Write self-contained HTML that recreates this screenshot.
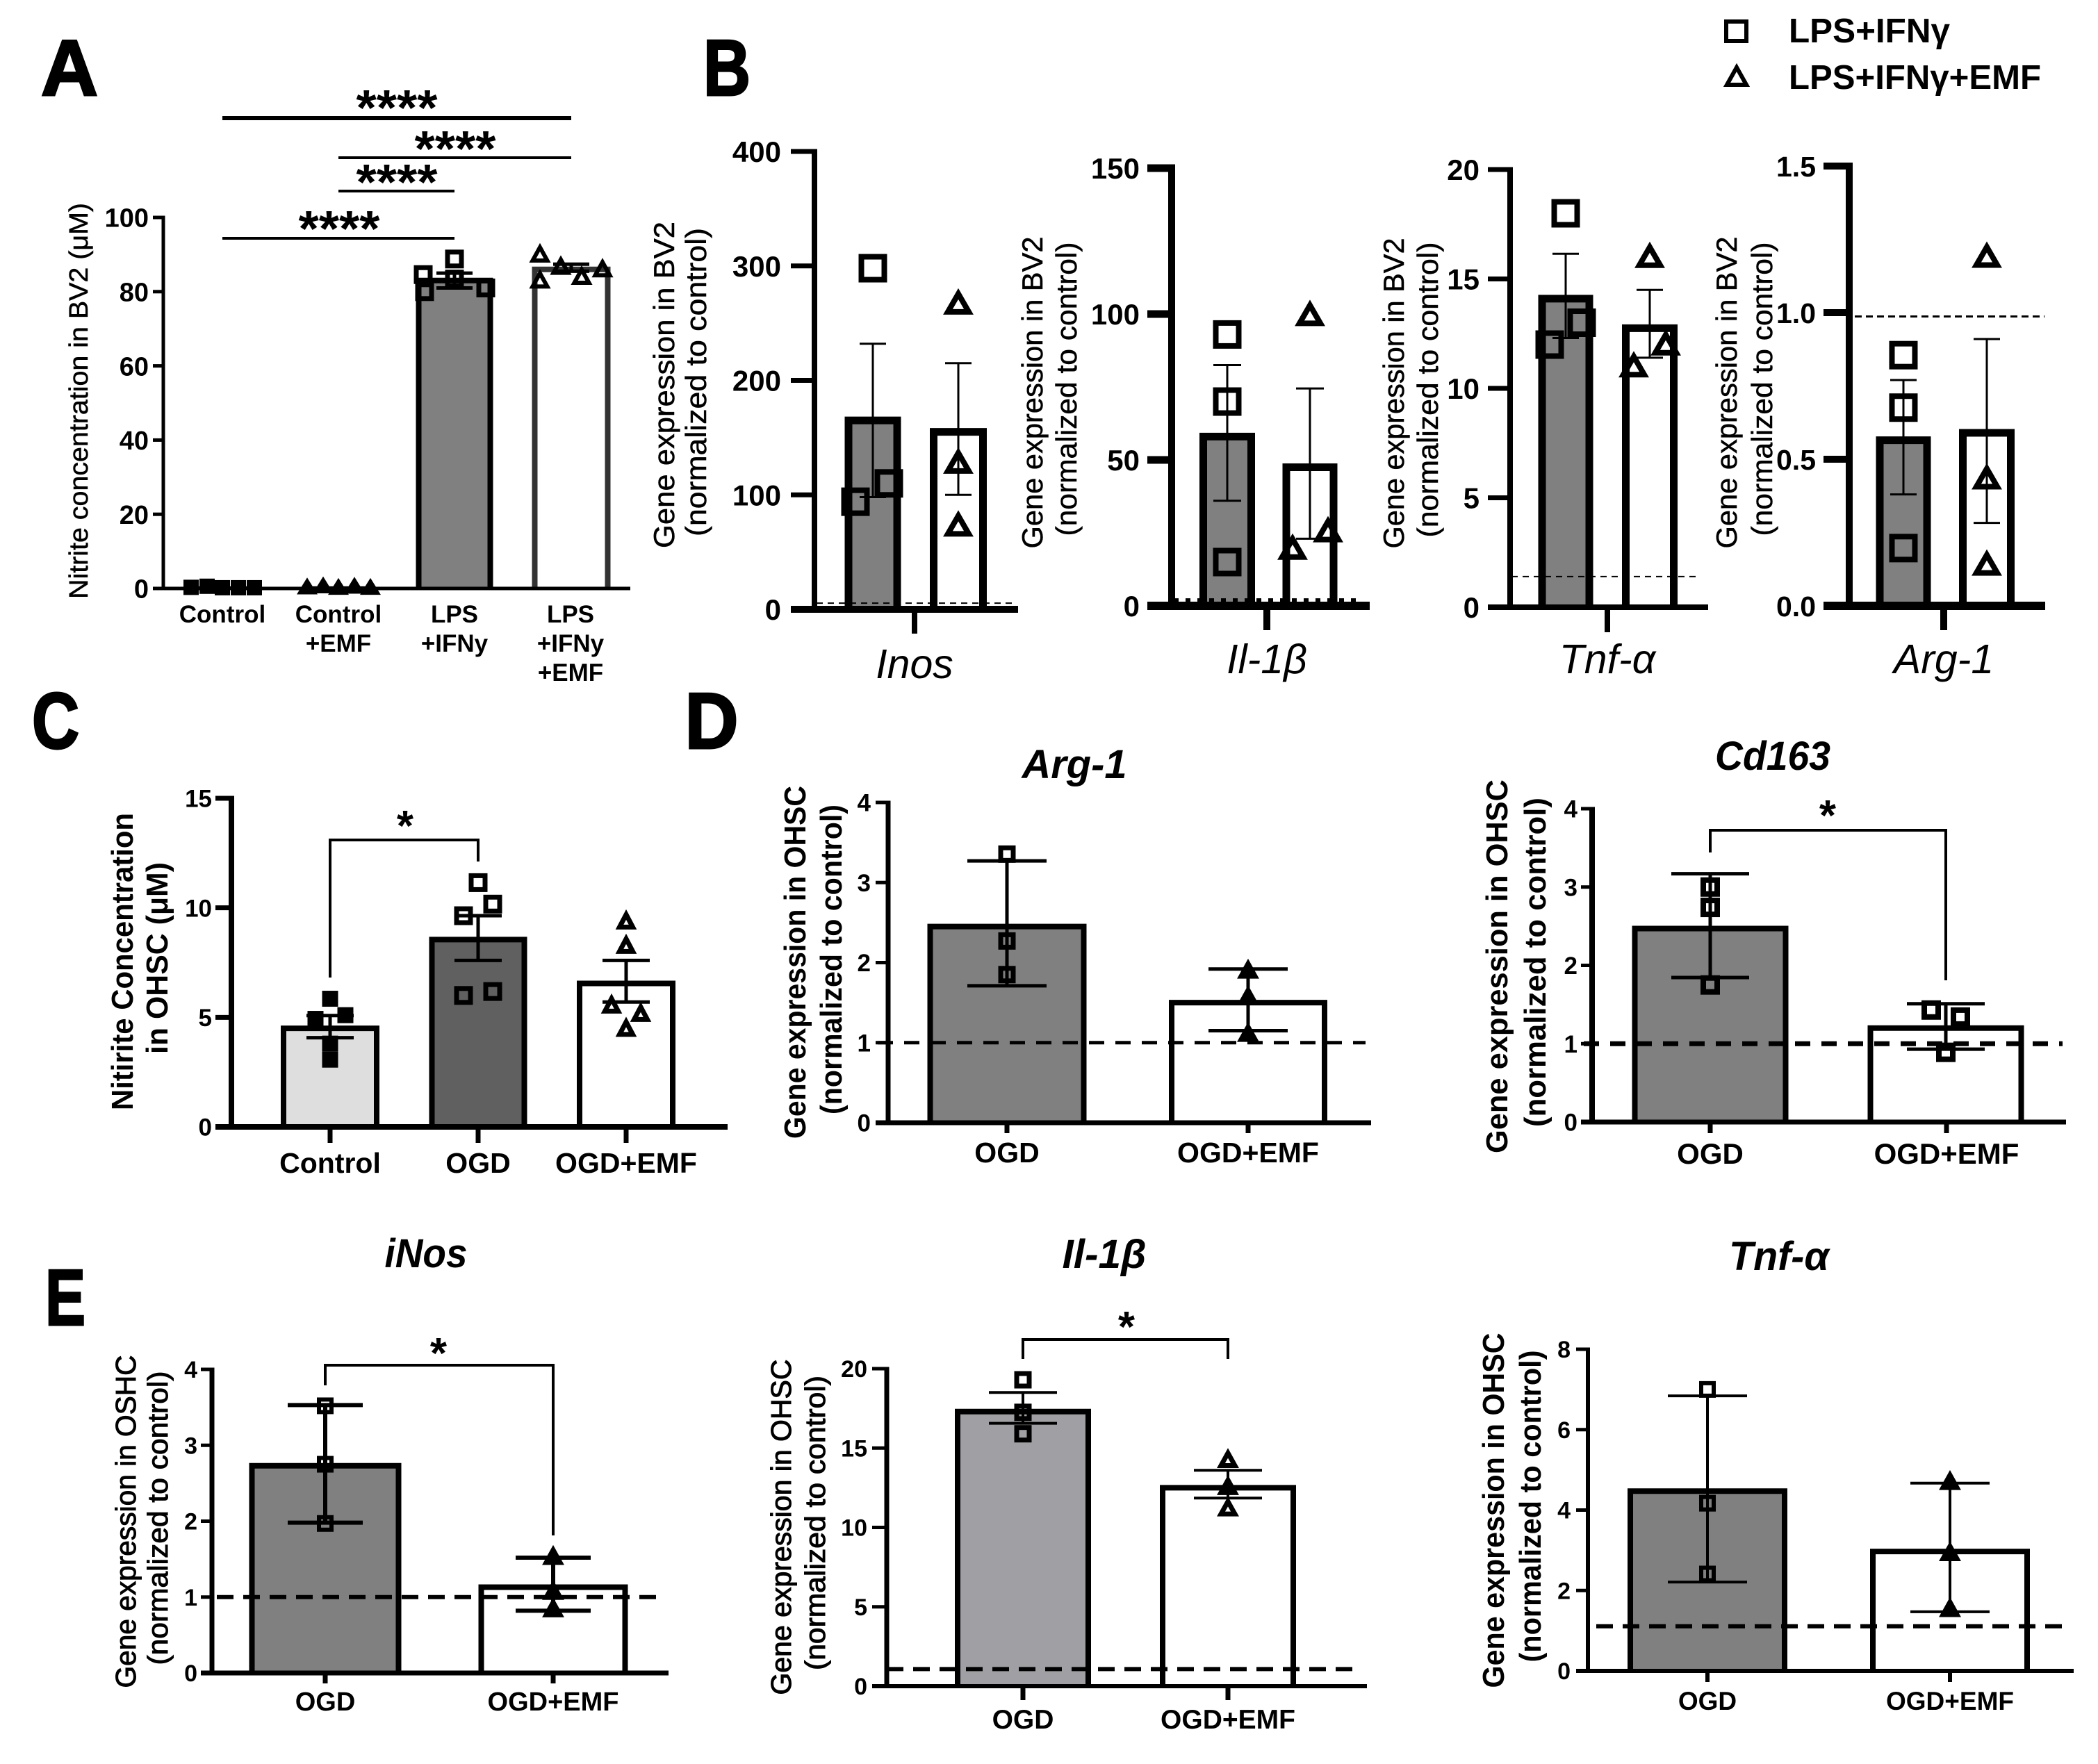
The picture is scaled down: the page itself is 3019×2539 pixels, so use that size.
<!DOCTYPE html>
<html lang="en">
<head>
<meta charset="utf-8">
<title>Nitrite concentration and gene expression in BV2 and OHSC</title>
<style>
html,body{margin:0;padding:0;background:#fff;}
svg{display:block;font-family:"Liberation Sans",sans-serif;}
.letter{font-weight:bold;font-size:114px;text-anchor:middle;stroke:#000;stroke-width:3px;}
.yl{text-anchor:middle;font-size:42px;stroke:#000;stroke-width:.5px;}
.ylb{text-anchor:middle;font-size:44px;font-weight:bold;}
.ylm{text-anchor:middle;font-size:41px;stroke:#000;stroke-width:1px;}
.title{font-weight:bold;font-style:italic;font-size:58px;text-anchor:middle;}
.star{font-weight:bold;text-anchor:middle;}
.leg{font-weight:bold;font-size:49px;}
</style>
</head>
<body>
<svg id="figure" width="3019" height="2539" viewBox="0 0 3019 2539" xmlns="http://www.w3.org/2000/svg">
<rect width="3019" height="2539" fill="#fff"/>
<text class="letter" x="100" y="137" textLength="82" lengthAdjust="spacingAndGlyphs">A</text>
<text class="letter" x="1046" y="137" textLength="68" lengthAdjust="spacingAndGlyphs">B</text>
<text class="letter" x="80" y="1077" textLength="68" lengthAdjust="spacingAndGlyphs">C</text>
<text class="letter" x="1024" y="1077" textLength="77" lengthAdjust="spacingAndGlyphs">D</text>
<text class="letter" x="94" y="1907" textLength="58" lengthAdjust="spacingAndGlyphs">E</text>

<g>
<rect x="2484" y="31" width="29" height="28" fill="none" stroke="#000" stroke-width="6"/>
<polygon points="2499,97 2513,122 2485,122" fill="none" stroke="#000" stroke-width="6"/>
<text class="leg" x="2574" y="61" textLength="232" lengthAdjust="spacingAndGlyphs">LPS+IFNγ</text>
<text class="leg" x="2574" y="128" textLength="363" lengthAdjust="spacingAndGlyphs">LPS+IFNγ+EMF</text>
</g>

<g id="chart-a">
<text class="yl" font-size="38" style="font-size:38px" transform="translate(126,577) rotate(-90)" textLength="570" lengthAdjust="spacingAndGlyphs">Nitrite concentration in BV2 (μM)</text>
<text class="star" font-size="72" x="571" y="180" textLength="117" lengthAdjust="spacingAndGlyphs">****</text>
<text class="star" font-size="72" x="655" y="239" textLength="117" lengthAdjust="spacingAndGlyphs">****</text>
<text class="star" font-size="72" x="571" y="287" textLength="117" lengthAdjust="spacingAndGlyphs">****</text>
<text class="star" font-size="72" x="488" y="354" textLength="117" lengthAdjust="spacingAndGlyphs">****</text>
</g>

<g id="chart-b1">
<text class="yl" transform="translate(970,554) rotate(-90)" textLength="470" lengthAdjust="spacingAndGlyphs">Gene expression in BV2</text>
<text class="yl" transform="translate(1016,550) rotate(-90)" textLength="444" lengthAdjust="spacingAndGlyphs">(normalized to control)</text>
</g>
<g id="chart-b2">
<text class="yl" transform="translate(1500,565) rotate(-90)" textLength="449" lengthAdjust="spacingAndGlyphs">Gene expression in BV2</text>
<text class="yl" transform="translate(1549,560) rotate(-90)" textLength="423" lengthAdjust="spacingAndGlyphs">(normalized to control)</text>
</g>
<g id="chart-b3">
<text class="yl" transform="translate(2020,566) rotate(-90)" textLength="447" lengthAdjust="spacingAndGlyphs">Gene expression in BV2</text>
<text class="yl" transform="translate(2069,561) rotate(-90)" textLength="425" lengthAdjust="spacingAndGlyphs">(normalized to control)</text>
</g>
<g id="chart-b4">
<text class="yl" transform="translate(2499,565) rotate(-90)" textLength="449" lengthAdjust="spacingAndGlyphs">Gene expression in BV2</text>
<text class="yl" transform="translate(2550,560) rotate(-90)" textLength="423" lengthAdjust="spacingAndGlyphs">(normalized to control)</text>
</g>

<g id="chart-c">
<text class="ylb" transform="translate(191,1384) rotate(-90)" textLength="428" lengthAdjust="spacingAndGlyphs">Nitirite Concentration</text>
<text class="ylb" transform="translate(241,1379) rotate(-90)" textLength="276" lengthAdjust="spacingAndGlyphs">in OHSC (μM)</text>
<text class="star" font-size="62" x="583" y="1210">*</text>
</g>

<g id="chart-d1">
<text class="title" x="1546" y="1120" textLength="151" lengthAdjust="spacingAndGlyphs">Arg-1</text>
<text class="ylb" transform="translate(1159,1385) rotate(-90)" textLength="508" lengthAdjust="spacingAndGlyphs">Gene expression in OHSC</text>
<text class="ylb" transform="translate(1211,1381) rotate(-90)" textLength="446" lengthAdjust="spacingAndGlyphs">(normalized to control)</text>
</g>
<g id="chart-d2">
<text class="title" x="2551" y="1108" textLength="166" lengthAdjust="spacingAndGlyphs">Cd163</text>
<text class="ylb" transform="translate(2169,1391) rotate(-90)" textLength="538" lengthAdjust="spacingAndGlyphs">Gene expression in OHSC</text>
<text class="ylb" transform="translate(2224,1385) rotate(-90)" textLength="474" lengthAdjust="spacingAndGlyphs">(normalized to control)</text>
<text class="star" font-size="62" x="2630" y="1195">*</text>
</g>

<g id="chart-e1">
<text class="title" x="613" y="1824" textLength="119" lengthAdjust="spacingAndGlyphs">iNos</text>
<text class="ylm" transform="translate(195,2190) rotate(-90)" textLength="479" lengthAdjust="spacingAndGlyphs">Gene expression in OSHC</text>
<text class="ylm" transform="translate(241,2185) rotate(-90)" textLength="423" lengthAdjust="spacingAndGlyphs">(normalized to control)</text>
<text class="star" font-size="62" x="631" y="1969">*</text>
</g>
<g id="chart-e2">
<text class="title" x="1589" y="1825" textLength="121" lengthAdjust="spacingAndGlyphs">Il-1β</text>
<text class="ylm" transform="translate(1138,2198) rotate(-90)" textLength="483" lengthAdjust="spacingAndGlyphs">Gene expression in OHSC</text>
<text class="ylm" transform="translate(1187,2192) rotate(-90)" textLength="424" lengthAdjust="spacingAndGlyphs">(normalized to control)</text>
<text class="star" font-size="62" x="1621" y="1931">*</text>
</g>
<g id="chart-e3">
<text class="title" x="2560" y="1828" textLength="144" lengthAdjust="spacingAndGlyphs">Tnf-α</text>
<text class="ylb" transform="translate(2164,2174) rotate(-90)" textLength="511" lengthAdjust="spacingAndGlyphs">Gene expression in OHSC</text>
<text class="ylb" transform="translate(2217,2168) rotate(-90)" textLength="449" lengthAdjust="spacingAndGlyphs">(normalized to control)</text>
</g>
</svg>

<script>
/* ---------- Data ---------- */
const panelA_ticks = [0, 20, 40, 60, 80, 100];
const panelA_tickLabels = ['0', '20', '40', '60', '80', '100'];
const panelA_categories = [['Control'], ['Control', '+EMF'], ['LPS', '+IFNy'], ['LPS', '+IFNy', '+EMF']];
const panelA_means = [0.3, 0.3, 83, 86];
const panelA_upper = [null, null, 85, 87.4];
const panelA_lower = [null, null, 81, 85.5];
const panelA_points = [[0.3, 0.6, 0.2, 0.2, 0.2], [0.3, 0.6, 0.2, 0.5, 0.2], [84.6, 88.8, 80, 83.4, 81], [90, 83, 86.7, 84, 86]];

const panelB1_ticks = [0, 100, 200, 300, 400];
const panelB1_tickLabels = ['0', '100', '200', '300', '400'];
const panelB1_categories = [['Inos']];
const panelB1_means = [165, 155];
const panelB1_upper = [232, 215];
const panelB1_lower = [98, 100];
const panelB1_points = [[298, 94, 110], [267, 128, 73]];
const panelB1_baseline = 5.4;

const panelB2_ticks = [0, 50, 100, 150];
const panelB2_tickLabels = ['0', '50', '100', '150'];
const panelB2_categories = [['Il-1β']];
const panelB2_means = [58, 47.5];
const panelB2_upper = [82.5, 74.5];
const panelB2_lower = [36, 23];
const panelB2_points = [[93, 70, 15], [99.6, 19.5, 25.5]];
const panelB2_baseline = 2;

const panelB3_ticks = [0, 5, 10, 15, 20];
const panelB3_tickLabels = ['0', '5', '10', '15', '20'];
const panelB3_categories = [['Tnf-α']];
const panelB3_means = [14.1, 12.75];
const panelB3_upper = [16.15, 14.5];
const panelB3_lower = [12.3, 11.4];
const panelB3_points = [[18, 12, 13], [16, 11, 12]];
const panelB3_baseline = 1.4;

const panelB4_ticks = [0, 0.5, 1, 1.5];
const panelB4_tickLabels = ['0.0', '0.5', '1.0', '1.5'];
const panelB4_categories = [['Arg-1']];
const panelB4_means = [0.565, 0.59];
const panelB4_upper = [0.77, 0.91];
const panelB4_lower = [0.38, 0.283];
const panelB4_points = [[0.855, 0.676, 0.197], [1.19, 0.434, 0.14]];
const panelB4_baseline = 0.987;

const panelC_ticks = [0, 5, 10, 15];
const panelC_tickLabels = ['0', '5', '10', '15'];
const panelC_categories = [['Control'], ['OGD'], ['OGD+EMF']];
const panelC_means = [4.5, 8.55, 6.55];
const panelC_upper = [5.08, 9.64, 7.6];
const panelC_lower = [4.07, 7.6, 5.7];
const panelC_points = [[5.85, 5.1, 4.93, 3.8, 3.07], [11.15, 10.17, 9.64, 6.18, 6], [9.38, 8.27, 5.54, 5.16, 4.48]];

const panelD1_ticks = [0, 1, 2, 3, 4];
const panelD1_tickLabels = ['0', '1', '2', '3', '4'];
const panelD1_categories = [['OGD'], ['OGD+EMF']];
const panelD1_means = [2.45, 1.5];
const panelD1_upper = [3.27, 1.92];
const panelD1_lower = [1.71, 1.15];
const panelD1_points = [[3.355, 2.27, 1.85], [1.9, 1.57, 1.11]];
const panelD1_baseline = 1;

const panelD2_ticks = [0, 1, 2, 3, 4];
const panelD2_tickLabels = ['0', '1', '2', '3', '4'];
const panelD2_categories = [['OGD'], ['OGD+EMF']];
const panelD2_means = [2.47, 1.2];
const panelD2_upper = [3.17, 1.51];
const panelD2_lower = [1.845, 0.93];
const panelD2_points = [[3, 2.74, 1.75], [1.43, 1.34, 0.89]];
const panelD2_baseline = 1;

const panelE1_ticks = [0, 1, 2, 3, 4];
const panelE1_tickLabels = ['0', '1', '2', '3', '4'];
const panelE1_categories = [['OGD'], ['OGD+EMF']];
const panelE1_means = [2.73, 1.13];
const panelE1_upper = [3.53, 1.52];
const panelE1_lower = [1.98, 0.82];
const panelE1_points = [[3.52, 2.75, 1.97], [1.53, 1.07, 0.84]];
const panelE1_baseline = 1;

const panelE2_ticks = [0, 5, 10, 15, 20];
const panelE2_tickLabels = ['0', '5', '10', '15', '20'];
const panelE2_categories = [['OGD'], ['OGD+EMF']];
const panelE2_means = [17.3, 12.5];
const panelE2_upper = [18.5, 13.6];
const panelE2_lower = [16.56, 11.85];
const panelE2_points = [[19.3, 17.25, 15.9], [14.25, 12.55, 11.2]];
const panelE2_baseline = 1.08;

const panelE3_ticks = [0, 2, 4, 6, 8];
const panelE3_tickLabels = ['0', '2', '4', '6', '8'];
const panelE3_categories = [['OGD'], ['OGD+EMF']];
const panelE3_means = [4.47, 2.97];
const panelE3_upper = [6.84, 4.67];
const panelE3_lower = [2.21, 1.47];
const panelE3_points = [[7, 4.17, 2.41], [4.7, 2.93, 1.54]];
const panelE3_baseline = 1.11;

/* ---------- Drawing ---------- */
const NS = 'http://www.w3.org/2000/svg';
function mk(parent, tag, attrs) {
  const el = document.createElementNS(NS, tag);
  for (const k in attrs) el.setAttribute(k, attrs[k]);
  parent.appendChild(el);
  return el;
}
function drawMarker(g, kind, x, y) {
  const fill = kind.fill || 'none';
  if (kind.shape === 'sq') {
    const s = kind.size;
    const m = mk(g, 'rect', {x: x - s / 2, y: y - s / 2, width: s, height: s, fill: fill, stroke: '#000', 'stroke-width': kind.sw});
    
    
  } else {
    const w = kind.size, h = kind.h || kind.size * 0.92;
    const pts = [x, y - h * 0.55, x + w / 2, y + h * 0.45, x - w / 2, y + h * 0.45].join(' ');
    const m = mk(g, 'polygon', {points: pts, fill: fill, stroke: '#000', 'stroke-width': kind.sw, 'stroke-linejoin': 'miter'});
    
    
  }
}
function drawChart(id, d, L) {
  const root = document.getElementById(id);
  const sy = v => L.y0 - v / L.yMax * (L.y0 - L.yTop);

  /* bars: three-sided outline, the x axis closes the bottom */
  d.means.forEach((v, i) => {
    const w = L.barWs[i], sw = L.barSw[i];
    const top = sy(v);
    const xl = L.centers[i] - w / 2 + sw / 2, xr = L.centers[i] + w / 2 - sw / 2;
    const bar = mk(root, 'path', {d: `M${xl} ${L.y0}V${top}H${xr}V${L.y0}Z`, fill: L.barFills[i], stroke: 'none'});
    
    
    const outline = mk(root, 'path', {d: `M${xl} ${L.y0}V${top}H${xr}V${L.y0}`, fill: 'none', stroke: L.barStrokes ? L.barStrokes[i] : '#000', 'stroke-width': sw});
    
    
  });

  /* error bars */
  d.means.forEach((v, i) => {
    if (d.upper[i] === null) return;
    const x = L.centers[i], hi = sy(d.upper[i]), lo = sy(d.lower[i]);
    const e = mk(root, 'path', {d: `M${x} ${hi}V${lo}M${x - L.capHalf} ${hi}H${x + L.capHalf}M${x - L.capHalf} ${lo}H${x + L.capHalf}`, fill: 'none', stroke: '#000', 'stroke-width': L.errSw});
    
    
  });

  /* individual points */
  d.points.forEach((vals, i) => {
    vals.forEach((v, j) => {
      const kind = Object.assign({}, L.marks[i]);
      drawMarker(root, kind, L.centers[i] + (L.dx[i] ? L.dx[i][j] : 0), sy(v));
    });
  });

  /* reference line */
  if (d.baseline !== undefined) {
    const y = sy(d.baseline);
    const dash = mk(root, 'line', {x1: L.dash.x1, x2: L.dash.x2, y1: y, y2: y, stroke: '#000', 'stroke-width': L.dash.sw, 'stroke-dasharray': L.dash.pattern});
    
    
  }

  /* axes */
  const yAxis = mk(root, 'line', {x1: L.axisX, x2: L.axisX, y1: L.y0, y2: L.yTop - L.tickW / 2, stroke: '#000', 'stroke-width': L.axisW});
  
  
  const xAxis = mk(root, 'line', {x1: L.tickL, x2: L.xEnd, y1: L.y0, y2: L.y0, stroke: '#000', 'stroke-width': L.xAxisW});
  
  

  d.ticks.forEach((v, i) => {
    const y = sy(v);
    const t = mk(root, 'line', {x1: L.tickL, x2: L.axisX, y1: y, y2: y, stroke: '#000', 'stroke-width': L.tickW});
    
    
    const lab = mk(root, 'text', {x: L.tickEnd, y: y + L.tickFs * 0.36, 'font-size': L.tickFs, 'font-weight': 'bold', 'text-anchor': 'end'});
    lab.textContent = d.tickLabels[i];
    
    
  });

  L.xTicks.forEach(x => {
    if (!L.xTickBottom) return;
    const t = mk(root, 'line', {x1: x, x2: x, y1: L.y0, y2: L.xTickBottom, stroke: '#000', 'stroke-width': L.xTickW});
    
    
  });

  d.categories.forEach((lines, i) => {
    lines.forEach((line, k) => {
      const c = mk(root, 'text', {x: L.xTicks[i], y: L.catY + k * (L.catLineH || 0), 'font-size': L.catFs, 'text-anchor': 'middle', 'font-weight': L.catItalic ? 'normal' : 'bold', 'font-style': L.catItalic ? 'italic' : 'normal'});
      c.textContent = line;
      
      
    });
  });

  /* significance annotations */
  (L.brackets || []).forEach(b => {
    const x1 = L.centers[b.from], x2 = L.centers[b.to];
    const br = mk(root, 'path', {d: `M${x1} ${b.leftEnd}V${b.y}H${x2}V${b.rightEnd}`, fill: 'none', stroke: '#000', 'stroke-width': b.sw});
    
    
  });
  (L.sigLines || []).forEach(b => {
    const ln = mk(root, 'line', {x1: L.centers[b.from], x2: L.centers[b.to], y1: b.y, y2: b.y, stroke: '#000', 'stroke-width': b.sw});
    
    
  });
}

const sq = (size, sw, fill) => ({shape: 'sq', size: size, sw: sw, fill: fill});
const tri = (size, sw, fill, h) => ({shape: 'tri', size: size, sw: sw, fill: fill, h: h});

drawChart('chart-a',
  {ticks: panelA_ticks, tickLabels: panelA_tickLabels, categories: panelA_categories, means: panelA_means, upper: panelA_upper, lower: panelA_lower, points: panelA_points},
  {axisX: 235, axisW: 5, y0: 847, yTop: 313, yMax: 100, tickL: 220, tickW: 5, xEnd: 907, xAxisW: 5,
   centers: [320, 487, 654, 822], barWs: [90, 90, 111, 113], barSw: [3, 3, 8, 8], barFills: ['#000', '#000', '#808080', '#fff'], barStrokes: ['#000', '#000', '#000', '#333'],
   errSw: 5, capHalf: 26,
   dx: [[-45, -22, 0, 23, 46], [-45, -22, 0, 23, 46], [-45, 0, -43, 0, 45], [-45, -45, -15, 15, 45]],
   marks: [sq(18, 4, '#000'), tri(21, 5, '#000', 17), sq(20, 7), tri(21, 6, 'none', 19)],
   xTicks: [320, 487, 654, 821], xTickBottom: 0, xTickW: 0,
   tickFs: 38, tickEnd: 214, catFs: 35, catY: 896, catLineH: 42,
   sigLines: [{from: 0, to: 3, y: 170, sw: 6}, {from: 1, to: 3, y: 227, sw: 4}, {from: 1, to: 2, y: 275, sw: 4}, {from: 0, to: 2, y: 343, sw: 4}]});

const bMarks = [sq(33, 8), tri(30, 8, 'none', 26)];
drawChart('chart-b1',
  {ticks: panelB1_ticks, tickLabels: panelB1_tickLabels, categories: panelB1_categories, means: panelB1_means, upper: panelB1_upper, lower: panelB1_lower, points: panelB1_points, baseline: panelB1_baseline},
  {axisX: 1172, axisW: 8, y0: 877, yTop: 218, yMax: 400, tickL: 1138, tickW: 7, xEnd: 1465, xAxisW: 10,
   centers: [1256, 1379], barWs: [81, 82], barSw: [11, 11], barFills: ['#808080', '#fff'], errSw: 3, capHalf: 19,
   dx: [[0, -25, 23], [0, 0, 0]], marks: bMarks,
   xTicks: [1316], xTickBottom: 912, xTickW: 8, tickFs: 42, tickEnd: 1124, catFs: 59, catItalic: true, catY: 976,
   dash: {x1: 1175, x2: 1458, sw: 2, pattern: '9 7'}});
drawChart('chart-b2',
  {ticks: panelB2_ticks, tickLabels: panelB2_tickLabels, categories: panelB2_categories, means: panelB2_means, upper: panelB2_upper, lower: panelB2_lower, points: panelB2_points, baseline: panelB2_baseline},
  {axisX: 1686, axisW: 10, y0: 872, yTop: 242, yMax: 150, tickL: 1651, tickW: 11, xEnd: 1971, xAxisW: 12,
   centers: [1766, 1885], barWs: [80, 79], barSw: [11, 11], barFills: ['#808080', '#fff'], errSw: 3, capHalf: 20,
   dx: [[0, 0, 0], [0, -25, 26]], marks: bMarks,
   xTicks: [1823], xTickBottom: 907, xTickW: 10, tickFs: 42, tickEnd: 1640, catFs: 59, catItalic: true, catY: 969,
   dash: {x1: 1689, x2: 1959, sw: 5, pattern: '7 10'}});
drawChart('chart-b3',
  {ticks: panelB3_ticks, tickLabels: panelB3_tickLabels, categories: panelB3_categories, means: panelB3_means, upper: panelB3_upper, lower: panelB3_lower, points: panelB3_points, baseline: panelB3_baseline},
  {axisX: 2173, axisW: 8, y0: 874, yTop: 244, yMax: 20, tickL: 2141, tickW: 7, xEnd: 2458, xAxisW: 8,
   centers: [2253, 2374], barWs: [79, 80], barSw: [11, 11], barFills: ['#808080', '#fff'], errSw: 3, capHalf: 19,
   dx: [[0, -23, 23], [0, -23, 23]], marks: bMarks,
   xTicks: [2313], xTickBottom: 910, xTickW: 8, tickFs: 42, tickEnd: 2129, catFs: 59, catItalic: true, catY: 969,
   dash: {x1: 2175, x2: 2441, sw: 2, pattern: '9 7'}});
drawChart('chart-b4',
  {ticks: panelB4_ticks, tickLabels: panelB4_tickLabels, categories: panelB4_categories, means: panelB4_means, upper: panelB4_upper, lower: panelB4_lower, points: panelB4_points, baseline: panelB4_baseline},
  {axisX: 2661, axisW: 10, y0: 872, yTop: 239, yMax: 1.5, tickL: 2624, tickW: 10, xEnd: 2943, xAxisW: 12,
   centers: [2739, 2859], barWs: [79, 80], barSw: [11, 11], barFills: ['#808080', '#fff'], errSw: 3, capHalf: 19,
   dx: [[0, 0, 0], [0, 0, 0]], marks: bMarks,
   xTicks: [2797], xTickBottom: 907, xTickW: 10, tickFs: 41, tickEnd: 2613, catFs: 59, catItalic: true, catY: 969,
   dash: {x1: 2669, x2: 2942, sw: 3, pattern: '10 6'}});

drawChart('chart-c',
  {ticks: panelC_ticks, tickLabels: panelC_tickLabels, categories: panelC_categories, means: panelC_means, upper: panelC_upper, lower: panelC_lower, points: panelC_points},
  {axisX: 333, axisW: 8, y0: 1622, yTop: 1149, yMax: 15, tickL: 310, tickW: 7, xEnd: 1047, xAxisW: 8,
   centers: [475, 688, 901], barWs: [142, 141, 142], barSw: [8, 8, 8], barFills: ['#dedede', '#606060', '#fff'], errSw: 5, capHalf: 34,
   dx: [[0, 22, -21, 0, 0], [0, 21, -21, 21, -21], [0, 0, -21, 21, 0]],
   marks: [sq(18, 5, '#000'), sq(20, 7), tri(19, 7, 'none', 18)],
   xTicks: [475, 688, 901], xTickBottom: 1645, xTickW: 7, tickFs: 35, tickEnd: 305, catFs: 41, catY: 1688,
   brackets: [{from: 0, to: 1, y: 1209, leftEnd: 1407, rightEnd: 1240, sw: 4}]});

const dMarks = [sq(18, 7), tri(20, 7, 'none', 18)];
drawChart('chart-d1',
  {ticks: panelD1_ticks, tickLabels: panelD1_tickLabels, categories: panelD1_categories, means: panelD1_means, upper: panelD1_upper, lower: panelD1_lower, points: panelD1_points, baseline: panelD1_baseline},
  {axisX: 1278, axisW: 7, y0: 1616, yTop: 1155, yMax: 4, tickL: 1260, tickW: 5, xEnd: 1973, xAxisW: 7,
   centers: [1449, 1796], barWs: [229, 228], barSw: [8, 8], barFills: ['#808080', '#fff'], errSw: 5, capHalf: 57,
   dx: [[0, 0, 0], [0, 0, 0]], marks: [sq(18, 7), tri(20, 7, '#000', 18)],
   xTicks: [1449, 1796], xTickBottom: 1631, xTickW: 7, tickFs: 35, tickEnd: 1253, catFs: 41, catY: 1673,
   dash: {x1: 1263, x2: 1965, sw: 5, pattern: '22 16'}});
drawChart('chart-d2',
  {ticks: panelD2_ticks, tickLabels: panelD2_tickLabels, categories: panelD2_categories, means: panelD2_means, upper: panelD2_upper, lower: panelD2_lower, points: panelD2_points, baseline: panelD2_baseline},
  {axisX: 2291, axisW: 8, y0: 1615, yTop: 1164, yMax: 4, tickL: 2275, tickW: 5, xEnd: 2973, xAxisW: 7,
   centers: [2461, 2800], barWs: [225, 225], barSw: [8, 8], barFills: ['#808080', '#fff'], errSw: 5, capHalf: 56,
   dx: [[0, 0, 0], [-21, 21, 0]], marks: [sq(20, 8), sq(20, 8)],
   xTicks: [2461, 2801], xTickBottom: 1631, xTickW: 7, tickFs: 35, tickEnd: 2270, catFs: 42, catY: 1675,
   dash: {x1: 2279, x2: 2968, sw: 7, pattern: '22 16'},
   brackets: [{from: 0, to: 1, y: 1195, leftEnd: 1227, rightEnd: 1411, sw: 4}]});

drawChart('chart-e1',
  {ticks: panelE1_ticks, tickLabels: panelE1_tickLabels, categories: panelE1_categories, means: panelE1_means, upper: panelE1_upper, lower: panelE1_lower, points: panelE1_points, baseline: panelE1_baseline},
  {axisX: 305, axisW: 7, y0: 2408, yTop: 1971, yMax: 4, tickL: 289, tickW: 5, xEnd: 962, xAxisW: 7,
   centers: [468, 796], barWs: [219, 215], barSw: [8, 8], barFills: ['#808080', '#fff'], errSw: 6, capHalf: 54,
   dx: [[0, 0, 0], [0, 0, 0]], marks: [sq(18, 6), tri(20, 7, '#000', 18)],
   xTicks: [468, 796], xTickBottom: 2423, xTickW: 7, tickFs: 34, tickEnd: 284, catFs: 38, catY: 2462,
   dash: {x1: 312, x2: 950, sw: 6, pattern: '24 14'},
   brackets: [{from: 0, to: 1, y: 1965, leftEnd: 1994, rightEnd: 2210, sw: 4}]});
drawChart('chart-e2',
  {ticks: panelE2_ticks, tickLabels: panelE2_tickLabels, categories: panelE2_categories, means: panelE2_means, upper: panelE2_upper, lower: panelE2_lower, points: panelE2_points, baseline: panelE2_baseline},
  {axisX: 1276, axisW: 7, y0: 2427, yTop: 1970, yMax: 20, tickL: 1255, tickW: 5, xEnd: 1967, xAxisW: 6,
   centers: [1472, 1767], barWs: [196, 196], barSw: [8, 8], barFills: ['#a09fa4', '#fff'], errSw: 4, capHalf: 49,
   dx: [[0, 0, 0], [0, 0, 0]], marks: dMarks,
   xTicks: [1472, 1767], xTickBottom: 2447, xTickW: 7, tickFs: 34, tickEnd: 1248, catFs: 39, catY: 2488,
   dash: {x1: 1276, x2: 1949, sw: 6, pattern: '24 14'},
   brackets: [{from: 0, to: 1, y: 1928, leftEnd: 1956, rightEnd: 1956, sw: 4}]});
drawChart('chart-e3',
  {ticks: panelE3_ticks, tickLabels: panelE3_tickLabels, categories: panelE3_categories, means: panelE3_means, upper: panelE3_upper, lower: panelE3_lower, points: panelE3_points, baseline: panelE3_baseline},
  {axisX: 2285, axisW: 6, y0: 2405, yTop: 1942, yMax: 8, tickL: 2268, tickW: 5, xEnd: 2984, xAxisW: 6,
   centers: [2457, 2806], barWs: [230, 230], barSw: [8, 8], barFills: ['#808080', '#fff'], errSw: 4, capHalf: 57,
   dx: [[0, 0, 0], [0, 0, 0]], marks: [sq(18, 6), tri(20, 7, '#000', 18)],
   xTicks: [2457, 2806], xTickBottom: 2421, xTickW: 6, tickFs: 34, tickEnd: 2260, catFs: 37, catY: 2461,
   dash: {x1: 2297, x2: 2980, sw: 6, pattern: '24 14'}});
</script>
</body>
</html>
